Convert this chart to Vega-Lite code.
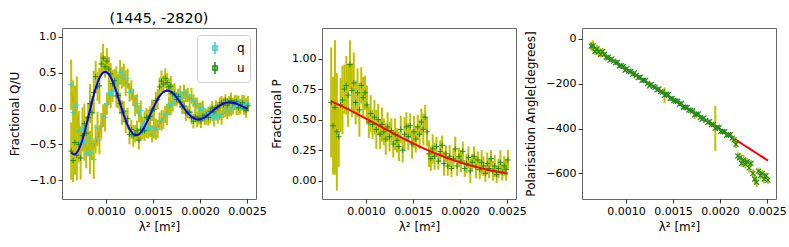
{
"$schema":"https://vega.github.io/schema/vega-lite/v6.json",
"padding":{"left":7,"top":10,"right":0,"bottom":0},
"bounds":"flush",
"spacing":66,
"config":{"font":"DejaVu Sans","view":{"stroke":"#666","strokeWidth":1},
"axis":{"labelFont":"DejaVu Sans","labelFontSize":11,"titleFont":"DejaVu Sans","titleFontSize":12,"titleFontWeight":"normal","labelColor":"#000","titleColor":"#000","tickColor":"#333","tickSize":4,"labelPadding":2,"domain":false,"grid":false,"labelOverlap":false,"labelBound":false,"labelFlush":false},
"axisY":{"titlePadding":8},"axisX":{"titlePadding":5},
"title":{"fontSize":14.4,"fontWeight":"normal","font":"DejaVu Sans","offset":2,"color":"#000"}},
"datasets":{"d":[
{"x":0.00063,"q":0.330,"qe":0.35,"u":-0.593,"ue":0.40,"qm":0.222,"um":-0.611,"p":0.64,"pe":0.45,"pm":0.650,"a":-32.6,"ae":20,"am":-35.0},
{"x":0.00065,"q":-0.059,"qe":0.45,"u":-0.725,"ue":0.30,"qm":0.103,"um":-0.635,"p":0.45,"pe":0.40,"pm":0.643,"a":-32.0,"ae":25,"am":-40.4},
{"x":0.00067,"q":0.018,"qe":0.30,"u":-0.474,"ue":0.45,"qm":-0.018,"um":-0.636,"p":0.60,"pe":0.55,"pm":0.636,"a":-56.6,"ae":15,"am":-45.8},
{"x":0.00069,"q":0.045,"qe":0.40,"u":-0.651,"ue":0.35,"qm":-0.135,"um":-0.615,"p":0.40,"pe":0.48,"pm":0.629,"a":-45.2,"ae":18,"am":-51.2},
{"x":0.00071,"q":-0.317,"qe":0.28,"u":-0.500,"ue":0.25,"qm":-0.245,"um":-0.572,"p":0.36,"pe":0.25,"pm":0.622,"a":-57.8,"ae":22,"am":-56.6},
{"x":0.00073,"q":-0.470,"qe":0.22,"u":-0.690,"ue":0.30,"qm":-0.344,"um":-0.510,"p":0.62,"pe":0.22,"pm":0.615,"a":-69.2,"ae":14,"am":-62.0},
{"x":0.00075,"q":-0.285,"qe":0.30,"u":-0.378,"ue":0.22,"qm":-0.429,"um":-0.432,"p":0.66,"pe":0.28,"pm":0.608,"a":-56.6,"ae":16,"am":-67.4},
{"x":0.00077,"q":-0.477,"qe":0.25,"u":-0.213,"ue":0.28,"qm":-0.495,"um":-0.339,"p":0.75,"pe":0.20,"pm":0.600,"a":-69.2,"ae":12,"am":-72.8},
{"x":0.00079,"q":-0.633,"qe":0.20,"u":-0.345,"ue":0.24,"qm":-0.543,"um":-0.237,"p":0.78,"pe":0.24,"pm":0.593,"a":-83.0,"ae":15,"am":-78.2},
{"x":0.00081,"q":-0.408,"qe":0.26,"u":-0.130,"ue":0.20,"qm":-0.570,"um":-0.130,"p":0.70,"pe":0.26,"pm":0.585,"a":-82.4,"ae":10,"am":-83.6},
{"x":0.00083,"q":-0.612,"qe":0.30,"u":0.070,"ue":0.27,"qm":-0.576,"um":-0.020,"p":0.95,"pe":0.20,"pm":0.577,"a":-95.4,"ae":9,"am":-89.0},
{"x":0.00085,"q":-0.490,"qe":0.22,"u":-0.057,"ue":0.23,"qm":-0.562,"um":0.087,"p":0.74,"pe":0.22,"pm":0.569,"a":-89.6,"ae":8,"am":-94.4},
{"x":0.00087,"q":-0.709,"qe":0.27,"u":0.224,"ue":0.30,"qm":-0.529,"um":0.188,"p":0.80,"pe":0.25,"pm":0.562,"a":-99.8,"ae":10,"am":-99.8},
{"x":0.00089,"q":-0.424,"qe":0.20,"u":0.442,"ue":0.22,"qm":-0.478,"um":0.280,"p":0.64,"pe":0.18,"pm":0.554,"a":-107.6,"ae":7,"am":-105.2},
{"x":0.00091,"q":-0.284,"qe":0.24,"u":0.305,"ue":0.20,"qm":-0.410,"um":0.359,"p":0.72,"pe":0.20,"pm":0.545,"a":-104.2,"ae":9,"am":-110.6},
{"x":0.00093,"q":-0.439,"qe":0.20,"u":0.315,"ue":0.25,"qm":-0.331,"um":0.423,"p":0.58,"pe":0.22,"pm":0.537,"a":-120.0,"ae":8,"am":-116.0},
{"x":0.00095,"q":-0.242,"qe":0.18,"u":0.62,"ue":0.16,"qm":-0.242,"um":0.470,"p":0.78,"pe":0.15,"pm":0.529,"a":-119.8,"ae":7,"am":-121.4},
{"x":0.00097,"q":-0.102,"qe":0.16,"u":0.70,"ue":0.20,"qm":-0.147,"um":0.500,"p":0.68,"pe":0.17,"pm":0.521,"a":-123.6,"ae":9,"am":-126.8},
{"x":0.00099,"q":-0.122,"qe":0.20,"u":0.58,"ue":0.15,"qm":-0.050,"um":0.510,"p":0.72,"pe":0.14,"pm":0.513,"a":-140.2,"ae":8,"am":-132.2},
{"x":0.00101,"q":0.064,"qe":0.15,"u":0.66,"ue":0.18,"qm":0.046,"um":0.502,"p":0.62,"pe":0.16,"pm":0.504,"a":-132.0,"ae":6,"am":-137.6},
{"x":0.00103,"q":0.218,"qe":0.17,"u":0.55,"ue":0.17,"qm":0.137,"um":0.477,"p":0.48,"pe":0.13,"pm":0.496,"a":-144.6,"ae":8,"am":-143.0},
{"x":0.00105,"q":0.193,"qe":0.19,"u":0.481,"ue":0.15,"qm":0.220,"um":0.436,"p":0.55,"pe":0.15,"pm":0.488,"a":-146.0,"ae":7,"am":-148.4},
{"x":0.00107,"q":0.239,"qe":0.15,"u":0.344,"ue":0.19,"qm":0.293,"um":0.380,"p":0.46,"pe":0.12,"pm":0.480,"a":-158.6,"ae":9,"am":-153.8},
{"x":0.00109,"q":0.388,"qe":0.16,"u":0.385,"ue":0.14,"qm":0.352,"um":0.313,"p":0.52,"pe":0.14,"pm":0.471,"a":-152.0,"ae":6,"am":-159.2},
{"x":0.00111,"q":0.407,"qe":0.18,"u":0.174,"ue":0.16,"qm":0.398,"um":0.237,"p":0.42,"pe":0.16,"pm":0.463,"a":-163.8,"ae":8,"am":-164.6},
{"x":0.00113,"q":0.346,"qe":0.14,"u":0.182,"ue":0.18,"qm":0.427,"um":0.155,"p":0.50,"pe":0.13,"pm":0.454,"a":-173.2,"ae":7,"am":-170.0},
{"x":0.00115,"q":0.503,"qe":0.17,"u":0.071,"ue":0.15,"qm":0.440,"um":0.071,"p":0.38,"pe":0.12,"pm":0.446,"a":-171.4,"ae":9,"am":-175.4},
{"x":0.00117,"q":0.429,"qe":0.15,"u":-0.057,"ue":0.17,"qm":0.438,"um":-0.012,"p":0.46,"pe":0.14,"pm":0.438,"a":-186.4,"ae":8,"am":-180.8},
{"x":0.00119,"q":0.464,"qe":0.16,"u":-0.038,"ue":0.14,"qm":0.419,"um":-0.092,"p":0.40,"pe":0.11,"pm":0.429,"a":-184.6,"ae":6,"am":-186.2},
{"x":0.00121,"q":0.351,"qe":0.18,"u":-0.184,"ue":0.16,"qm":0.387,"um":-0.166,"p":0.34,"pe":0.13,"pm":0.421,"a":-185.2,"ae":7,"am":-191.6},
{"x":0.00123,"q":0.414,"qe":0.14,"u":-0.141,"ue":0.15,"qm":0.342,"um":-0.231,"p":0.44,"pe":0.12,"pm":0.413,"a":-199.4,"ae":8,"am":-197.0},
{"x":0.00125,"q":0.223,"qe":0.13,"u":-0.360,"ue":0.14,"qm":0.286,"um":-0.288,"p":0.36,"pe":0.12,"pm":0.405,"a":-209.6,"ae":7,"am":-202.4},
{"x":0.00127,"q":0.251,"qe":0.14,"u":-0.291,"ue":0.13,"qm":0.224,"um":-0.327,"p":0.41,"pe":0.10,"pm":0.396,"a":-203.0,"ae":9,"am":-207.8},
{"x":0.00129,"q":0.155,"qe":0.12,"u":-0.382,"ue":0.15,"qm":0.155,"um":-0.355,"p":0.30,"pe":0.11,"pm":0.388,"a":-213.2,"ae":6,"am":-213.2},
{"x":0.00131,"q":0.039,"qe":0.15,"u":-0.353,"ue":0.12,"qm":0.084,"um":-0.371,"p":0.38,"pe":0.13,"pm":0.380,"a":-215.4,"ae":8,"am":-218.6},
{"x":0.00133,"q":0.067,"qe":0.13,"u":-0.309,"ue":0.14,"qm":0.013,"um":-0.372,"p":0.33,"pe":0.10,"pm":0.372,"a":-228.0,"ae":7,"am":-224.0},
{"x":0.00135,"q":-0.074,"qe":0.12,"u":-0.441,"ue":0.13,"qm":-0.056,"um":-0.360,"p":0.28,"pe":0.12,"pm":0.364,"a":-223.8,"ae":9,"am":-229.4},
{"x":0.00137,"q":-0.029,"qe":0.14,"u":-0.290,"ue":0.15,"qm":-0.119,"um":-0.335,"p":0.42,"pe":0.11,"pm":0.356,"a":-235.6,"ae":8,"am":-234.8},
{"x":0.00139,"q":-0.248,"qe":0.13,"u":-0.309,"ue":0.12,"qm":-0.176,"um":-0.300,"p":0.25,"pe":0.10,"pm":0.348,"a":-237.8,"ae":10,"am":-240.2},
{"x":0.00141,"q":-0.188,"qe":0.15,"u":-0.310,"ue":0.14,"qm":-0.224,"um":-0.256,"p":0.38,"pe":0.14,"pm":0.340,"a":-252.0,"ae":35,"am":-245.6},
{"x":0.00143,"q":-0.289,"qe":0.12,"u":-0.124,"ue":0.13,"qm":-0.262,"um":-0.205,"p":0.44,"pe":0.12,"pm":0.333,"a":-247.0,"ae":12,"am":-251.0},
{"x":0.00145,"q":-0.279,"qe":0.14,"u":-0.134,"ue":0.12,"qm":-0.289,"um":-0.149,"p":0.36,"pe":0.11,"pm":0.325,"a":-249.2,"ae":9,"am":-256.4},
{"x":0.00147,"q":-0.269,"qe":0.13,"u":-0.109,"ue":0.14,"qm":-0.304,"um":-0.089,"p":0.45,"pe":0.10,"pm":0.317,"a":-266.6,"ae":8,"am":-261.8},
{"x":0.00149,"q":-0.353,"qe":0.12,"u":-0.025,"ue":0.15,"qm":-0.308,"um":-0.030,"p":0.30,"pe":0.12,"pm":0.310,"a":-265.6,"ae":7,"am":-267.2},
{"x":0.00151,"q":-0.276,"qe":0.14,"u":-0.013,"ue":0.13,"qm":-0.301,"um":0.027,"p":0.40,"pe":0.13,"pm":0.302,"a":-275.0,"ae":9,"am":-272.6},
{"x":0.00153,"q":-0.288,"qe":0.15,"u":0.111,"ue":0.12,"qm":-0.283,"um":0.081,"p":0.34,"pe":0.11,"pm":0.295,"a":-277.2,"ae":6,"am":-278.0},
{"x":0.00155,"q":-0.286,"qe":0.13,"u":0.129,"ue":0.14,"qm":-0.256,"um":0.129,"p":0.44,"pe":0.10,"pm":0.287,"a":-278.6,"ae":8,"am":-283.4},
{"x":0.00157,"q":-0.177,"qe":0.12,"u":0.30,"ue":0.13,"qm":-0.222,"um":0.171,"p":0.38,"pe":0.12,"pm":0.280,"a":-292.0,"ae":7,"am":-288.8},
{"x":0.00159,"q":-0.166,"qe":0.14,"u":0.38,"ue":0.15,"qm":-0.181,"um":0.204,"p":0.48,"pe":0.11,"pm":0.273,"a":-287.8,"ae":9,"am":-294.2},
{"x":0.00161,"q":-0.156,"qe":0.13,"u":0.34,"ue":0.12,"qm":-0.136,"um":0.228,"p":0.42,"pe":0.13,"pm":0.266,"a":-305.2,"ae":8,"am":-299.6},
{"x":0.00163,"q":-0.084,"qe":0.12,"u":0.42,"ue":0.14,"qm":-0.089,"um":0.243,"p":0.52,"pe":0.10,"pm":0.259,"a":-305.0,"ae":6,"am":-305.0},
{"x":0.00165,"q":-0.080,"qe":0.15,"u":0.36,"ue":0.13,"qm":-0.040,"um":0.249,"p":0.40,"pe":0.12,"pm":0.252,"a":-306.4,"ae":8,"am":-310.4},
{"x":0.00167,"q":0.037,"qe":0.13,"u":0.30,"ue":0.12,"qm":0.007,"um":0.246,"p":0.22,"pe":0.11,"pm":0.246,"a":-317.4,"ae":7,"am":-315.8},
{"x":0.00169,"q":0.051,"qe":0.14,"u":0.31,"ue":0.14,"qm":0.051,"um":0.234,"p":0.18,"pe":0.10,"pm":0.239,"a":-318.8,"ae":9,"am":-321.2},
{"x":0.00171,"q":0.077,"qe":0.12,"u":0.204,"ue":0.13,"qm":0.092,"um":0.214,"p":0.26,"pe":0.12,"pm":0.233,"a":-321.8,"ae":8,"am":-326.6},
{"x":0.00173,"q":0.166,"qe":0.13,"u":0.202,"ue":0.15,"qm":0.126,"um":0.187,"p":0.20,"pe":0.11,"pm":0.226,"a":-339.2,"ae":20,"am":-332.0},
{"x":0.00175,"q":0.130,"qe":0.10,"u":0.126,"ue":0.09,"qm":0.155,"um":0.156,"p":0.28,"pe":0.08,"pm":0.220,"a":-335.8,"ae":8,"am":-337.4},
{"x":0.00177,"q":0.187,"qe":0.09,"u":0.166,"ue":0.10,"qm":0.177,"um":0.121,"p":0.16,"pe":0.07,"pm":0.214,"a":-334.8,"ae":7,"am":-342.8},
{"x":0.00179,"q":0.211,"qe":0.11,"u":0.088,"ue":0.08,"qm":0.191,"um":0.083,"p":0.24,"pe":0.09,"pm":0.208,"a":-351.4,"ae":9,"am":-348.2},
{"x":0.00181,"q":0.147,"qe":0.08,"u":0.025,"ue":0.10,"qm":0.197,"um":0.045,"p":0.29,"pe":0.08,"pm":0.202,"a":-359.2,"ae":6,"am":-353.6},
{"x":0.00183,"q":0.231,"qe":0.10,"u":0.032,"ue":0.09,"qm":0.196,"um":0.007,"p":0.14,"pe":0.10,"pm":0.196,"a":-352.6,"ae":8,"am":-359.0},
{"x":0.00185,"q":0.178,"qe":0.09,"u":-0.064,"ue":0.11,"qm":0.188,"um":-0.029,"p":0.22,"pe":0.07,"pm":0.190,"a":-363.6,"ae":7,"am":-364.4},
{"x":0.00187,"q":0.188,"qe":0.10,"u":-0.052,"ue":0.08,"qm":0.173,"um":-0.062,"p":0.12,"pe":0.08,"pm":0.184,"a":-373.8,"ae":9,"am":-369.8},
{"x":0.00189,"q":0.124,"qe":0.08,"u":-0.051,"ue":0.10,"qm":0.154,"um":-0.091,"p":0.20,"pe":0.09,"pm":0.179,"a":-368.0,"ae":8,"am":-375.2},
{"x":0.00191,"q":0.175,"qe":0.11,"u":-0.129,"ue":0.09,"qm":0.130,"um":-0.114,"p":0.10,"pe":0.07,"pm":0.173,"a":-382.2,"ae":7,"am":-380.6},
{"x":0.00193,"q":0.108,"qe":0.09,"u":-0.177,"ue":0.10,"qm":0.103,"um":-0.132,"p":0.18,"pe":0.08,"pm":0.168,"a":-382.8,"ae":9,"am":-386.0},
{"x":0.00195,"q":0.054,"qe":0.10,"u":-0.115,"ue":0.08,"qm":0.074,"um":-0.145,"p":0.26,"pe":0.10,"pm":0.163,"a":-399.4,"ae":100,"am":-391.4},
{"x":0.00197,"q":0.070,"qe":0.08,"u":-0.152,"ue":0.11,"qm":0.045,"um":-0.152,"p":0.12,"pe":0.08,"pm":0.158,"a":-394.4,"ae":8,"am":-396.8},
{"x":0.00199,"q":-0.020,"qe":0.10,"u":-0.132,"ue":0.09,"qm":0.015,"um":-0.152,"p":0.20,"pe":0.07,"pm":0.153,"a":-396.6,"ae":7,"am":-402.2},
{"x":0.00201,"q":-0.003,"qe":0.09,"u":-0.172,"ue":0.10,"qm":-0.013,"um":-0.147,"p":0.16,"pe":0.09,"pm":0.148,"a":-412.4,"ae":9,"am":-407.6},
{"x":0.00203,"q":0.001,"qe":0.11,"u":-0.102,"ue":0.08,"qm":-0.039,"um":-0.137,"p":0.24,"pe":0.08,"pm":0.143,"a":-413.0,"ae":8,"am":-413.0},
{"x":0.00205,"q":-0.077,"qe":0.08,"u":-0.128,"ue":0.10,"qm":-0.062,"um":-0.123,"p":0.10,"pe":0.07,"pm":0.138,"a":-414.4,"ae":7,"am":-418.4},
{"x":0.00207,"q":-0.127,"qe":0.10,"u":-0.091,"ue":0.09,"qm":-0.082,"um":-0.106,"p":0.14,"pe":0.08,"pm":0.134,"a":-430.2,"ae":9,"am":-423.8},
{"x":0.00209,"q":-0.066,"qe":0.09,"u":-0.126,"ue":0.11,"qm":-0.096,"um":-0.086,"p":0.19,"pe":0.09,"pm":0.129,"a":-427.6,"ae":8,"am":-429.2},
{"x":0.00211,"q":-0.107,"qe":0.10,"u":-0.039,"ue":0.08,"qm":-0.107,"um":-0.064,"p":0.08,"pe":0.10,"pm":0.125,"a":-427.4,"ae":10,"am":-434.6},
{"x":0.00213,"q":-0.094,"qe":0.08,"u":0.004,"ue":0.10,"qm":-0.114,"um":-0.041,"p":0.15,"pe":0.07,"pm":0.121,"a":-442.4,"ae":12,"am":-440.0},
{"x":0.00215,"q":-0.140,"qe":0.11,"u":-0.049,"ue":0.09,"qm":-0.115,"um":-0.019,"p":0.20,"pe":0.08,"pm":0.117,"a":-450.2,"ae":14,"am":-445.4},
{"x":0.00217,"q":-0.078,"qe":0.09,"u":0.013,"ue":0.10,"qm":-0.113,"um":0.003,"p":0.11,"pe":0.09,"pm":0.113,"a":-470.0,"ae":18,"am":-450.8},
{"x":0.00219,"q":-0.111,"qe":0.10,"u":0.008,"ue":0.08,"qm":-0.106,"um":0.023,"p":0.17,"pe":0.07,"pm":0.109,"a":-522.0,"ae":16,"am":-456.2},
{"x":0.00221,"q":-0.081,"qe":0.08,"u":0.046,"ue":0.11,"qm":-0.096,"um":0.041,"p":0.09,"pe":0.08,"pm":0.105,"a":-530.0,"ae":20,"am":-461.6},
{"x":0.00223,"q":-0.124,"qe":0.10,"u":0.086,"ue":0.09,"qm":-0.084,"um":0.056,"p":0.15,"pe":0.10,"pm":0.101,"a":-555.0,"ae":15,"am":-467.0},
{"x":0.00225,"q":-0.043,"qe":0.09,"u":0.049,"ue":0.10,"qm":-0.068,"um":0.069,"p":0.12,"pe":0.08,"pm":0.097,"a":-540.0,"ae":22,"am":-472.4},
{"x":0.00227,"q":-0.008,"qe":0.11,"u":0.118,"ue":0.08,"qm":-0.053,"um":0.078,"p":0.06,"pe":0.07,"pm":0.094,"a":-560.0,"ae":18,"am":-477.8},
{"x":0.00229,"q":-0.066,"qe":0.08,"u":0.047,"ue":0.10,"qm":-0.036,"um":0.082,"p":0.14,"pe":0.09,"pm":0.090,"a":-548.0,"ae":16,"am":-483.2},
{"x":0.00231,"q":-0.009,"qe":0.10,"u":0.085,"ue":0.09,"qm":-0.019,"um":0.085,"p":0.10,"pe":0.08,"pm":0.087,"a":-575.0,"ae":20,"am":-488.6},
{"x":0.00233,"q":-0.018,"qe":0.09,"u":0.109,"ue":0.11,"qm":-0.003,"um":0.084,"p":0.18,"pe":0.07,"pm":0.084,"a":-555.0,"ae":14,"am":-494.0},
{"x":0.00235,"q":0.017,"qe":0.10,"u":0.070,"ue":0.08,"qm":0.012,"um":0.080,"p":0.08,"pe":0.08,"pm":0.081,"a":-600.0,"ae":18,"am":-499.4},
{"x":0.00237,"q":0.056,"qe":0.08,"u":0.088,"ue":0.10,"qm":0.026,"um":0.073,"p":0.12,"pe":0.09,"pm":0.078,"a":-625.0,"ae":22,"am":-504.8},
{"x":0.00239,"q":0.018,"qe":0.11,"u":0.095,"ue":0.09,"qm":0.038,"um":0.065,"p":0.05,"pe":0.07,"pm":0.075,"a":-640.0,"ae":20,"am":-510.2},
{"x":0.00241,"q":0.087,"qe":0.09,"u":0.009,"ue":0.10,"qm":0.047,"um":0.054,"p":0.10,"pe":0.08,"pm":0.072,"a":-590.0,"ae":16,"am":-515.6},
{"x":0.00243,"q":0.019,"qe":0.10,"u":0.053,"ue":0.08,"qm":0.054,"um":0.043,"p":0.15,"pe":0.10,"pm":0.069,"a":-610.0,"ae":18,"am":-521.0},
{"x":0.00245,"q":0.059,"qe":0.08,"u":0.080,"ue":0.11,"qm":0.059,"um":0.030,"p":0.07,"pe":0.07,"pm":0.066,"a":-600.0,"ae":15,"am":-526.4},
{"x":0.00247,"q":0.086,"qe":0.10,"u":-0.002,"ue":0.09,"qm":0.061,"um":0.018,"p":0.12,"pe":0.08,"pm":0.064,"a":-625.0,"ae":20,"am":-531.8},
{"x":0.00249,"q":0.051,"qe":0.09,"u":-0.029,"ue":0.10,"qm":0.061,"um":0.006,"p":0.09,"pe":0.09,"pm":0.061,"a":-610.0,"ae":14,"am":-537.2},
{"x":0.00251,"q":0.074,"qe":0.10,"u":0.035,"ue":0.08,"qm":0.059,"um":-0.005,"p":0.17,"pe":0.08,"pm":0.059,"a":-630.0,"ae":16,"am":-542.6}
]},
"hconcat":[
{"width":194,"height":171,"data":{"name":"d"},
"title":"(1445, -2820)",
"layer":[
{"mark":{"type":"line","color":"#ff0000","strokeWidth":2,"clip":true},
"encoding":{"x":{"field":"x","type":"quantitative","title":"λ² [m²]","scale":{"domain":[0.000532,0.002596],"nice":false,"zero":false},"axis":{"values":[0.001,0.0015,0.002,0.0025],"format":".4f"}},
"y":{"field":"qm","type":"quantitative","title":"Fractional Q/U","scale":{"domain":[-1.26,1.12],"nice":false,"zero":false},"axis":{"values":[-1,-0.5,0,0.5,1],"format":".1f"}}}},
{"mark":{"type":"errorbar","ticks":false,"clip":true,"rule":{"stroke":"#bfbf00","strokeWidth":2}},
"encoding":{"x":{"field":"x","type":"quantitative","title":"λ² [m²]"},"y":{"field":"q","type":"quantitative","title":"Fractional Q/U"},"yError":{"field":"qe"}}},
{"mark":{"type":"errorbar","ticks":false,"clip":true,"rule":{"stroke":"#bfbf00","strokeWidth":2}},
"encoding":{"x":{"field":"x","type":"quantitative","title":"λ² [m²]"},"y":{"field":"u","type":"quantitative","title":"Fractional Q/U"},"yError":{"field":"ue"}}},
{"mark":{"type":"point","shape":"M-1,0L1,0M0,-1L0,1","filled":false,"strokeWidth":1,"size":30,"opacity":1,"clip":true},
"encoding":{"x":{"field":"x","type":"quantitative","title":"λ² [m²]"},"y":{"field":"q","type":"quantitative","title":"Fractional Q/U"},
"color":{"datum":"q","type":"nominal","scale":{"domain":["q","u"],"range":["#3fcfc8","#1e8c1e"]},
"legend":{"orient":"none","legendX":135,"legendY":7,"title":null,"padding":5,"symbolOffset":5,"labelOffset":14,"rowPadding":2,"strokeColor":"#cccccc","cornerRadius":3,"fillColor":"#ffffff","symbolSize":196,"symbolType":"M0,-0.85L0,0.85M-0.3,-0.3L0.3,-0.3L0.3,0.3L-0.3,0.3Z","symbolStrokeWidth":1.5,"labelFontSize":12,"labelFont":"DejaVu Sans","labelColor":"#000",
"encode":{"symbols":{"update":{"stroke":{"value":"#bfbf00"},"fill":{"scale":"color","field":"value"},"fillOpacity":{"value":1},"opacity":{"value":1}}}}}}}},
{"mark":{"type":"point","shape":"M-1,0L1,0M0,-1L0,1","filled":false,"strokeWidth":1,"size":30,"opacity":1,"clip":true},
"encoding":{"x":{"field":"x","type":"quantitative","title":"λ² [m²]"},"y":{"field":"u","type":"quantitative","title":"Fractional Q/U"},"color":{"datum":"u","type":"nominal"}}},
{"mark":{"type":"line","color":"#0000ff","strokeWidth":2,"clip":true},
"encoding":{"x":{"field":"x","type":"quantitative","title":"λ² [m²]"},"y":{"field":"um","type":"quantitative","title":"Fractional Q/U"}}}
]},
{"width":194,"height":171,"data":{"name":"d"},
"layer":[
{"mark":{"type":"errorbar","ticks":false,"clip":true,"rule":{"stroke":"#bfbf00","strokeWidth":2}},
"encoding":{"x":{"field":"x","type":"quantitative","title":"λ² [m²]","scale":{"domain":[0.000532,0.002596],"nice":false,"zero":false},"axis":{"values":[0.001,0.0015,0.002,0.0025],"format":".4f"}},
"y":{"field":"p","type":"quantitative","title":"Fractional P","scale":{"domain":[-0.15,1.25],"nice":false,"zero":false},"axis":{"values":[0,0.25,0.5,0.75,1],"format":".2f"}},"yError":{"field":"pe"}}},
{"mark":{"type":"point","shape":"M-1,0L1,0M0,-1L0,1","filled":false,"strokeWidth":1,"size":30,"opacity":1,"color":"#1e8c1e","clip":true},
"encoding":{"x":{"field":"x","type":"quantitative","title":"λ² [m²]"},"y":{"field":"p","type":"quantitative","title":"Fractional P"}}},
{"mark":{"type":"line","color":"#ff0000","strokeWidth":2,"clip":true},
"encoding":{"x":{"field":"x","type":"quantitative","title":"λ² [m²]"},"y":{"field":"pm","type":"quantitative","title":"Fractional P"}}}
]},
{"width":194,"height":171,"data":{"name":"d"},
"layer":[
{"mark":{"type":"line","color":"#ff0000","strokeWidth":2,"clip":true},
"encoding":{"x":{"field":"x","type":"quantitative","title":"λ² [m²]","scale":{"domain":[0.000532,0.002596],"nice":false,"zero":false},"axis":{"values":[0.001,0.0015,0.002,0.0025],"format":".4f"}},
"y":{"field":"am","type":"quantitative","title":"Polarisation Angle[degrees]","scale":{"domain":[-714,48],"nice":false,"zero":false},"axis":{"values":[0,-200,-400,-600],"format":"d"}}}},
{"mark":{"type":"errorbar","ticks":false,"clip":true,"rule":{"stroke":"#bfbf00","strokeWidth":2}},
"encoding":{"x":{"field":"x","type":"quantitative","title":"λ² [m²]"},"y":{"field":"a","type":"quantitative","title":"Polarisation Angle[degrees]"},"yError":{"field":"ae"}}},
{"mark":{"type":"point","shape":"M-1,-1L1,1M-1,1L1,-1","filled":false,"strokeWidth":1.2,"size":25,"opacity":1,"color":"#1e8c1e","clip":true},
"encoding":{"x":{"field":"x","type":"quantitative","title":"λ² [m²]"},"y":{"field":"a","type":"quantitative","title":"Polarisation Angle[degrees]"}}}
]}
]}
